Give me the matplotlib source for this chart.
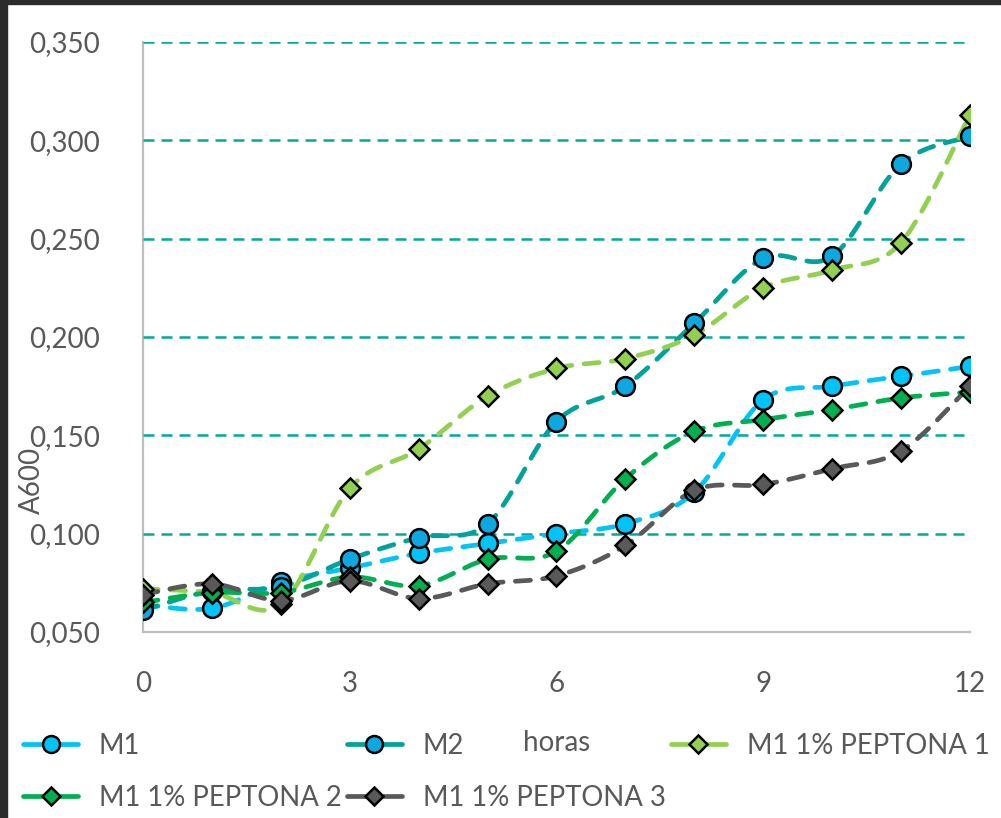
import numpy as np
import matplotlib
matplotlib.use('Agg')
import matplotlib.pyplot as plt
from matplotlib.lines import Line2D
from matplotlib.patches import Rectangle

plt.rcParams['font.family'] = ['Lato', 'DejaVu Sans']

# Datos
horas = [0, 1, 2, 3, 4, 5, 6, 7, 8, 9, 10, 11, 12]
m1 = [0.064, 0.062, 0.0755, 0.0825, 0.090, 0.095, 0.100, 0.105, 0.121, 0.168, 0.175, 0.180, 0.185]
m2 = [0.061, 0.071, 0.073, 0.087, 0.098, 0.105, 0.157, 0.175, 0.207, 0.240, 0.241, 0.288, 0.302]
pep1 = [0.072, 0.070, 0.064, 0.123, 0.143, 0.170, 0.184, 0.189, 0.201, 0.225, 0.234, 0.248, 0.313]
pep2 = [0.065, 0.070, 0.070, 0.078, 0.0735, 0.087, 0.091, 0.128, 0.152, 0.158, 0.163, 0.169, 0.172]
pep3 = [0.069, 0.0745, 0.066, 0.076, 0.067, 0.0745, 0.0785, 0.094, 0.122, 0.125, 0.133, 0.142, 0.175]

nombres = ['M1', 'M2', 'M1 1% PEPTONA 1', 'M1 1% PEPTONA 2', 'M1 1% PEPTONA 3']
series = [m1, m2, pep1, pep2, pep3]
col_linea = ['#00C4F8', '#00A39B', '#92D050', '#00B050', '#595959']
col_relleno = ['#00C4F8', '#0EA8E0', '#92D050', '#00B050', '#595959']
marcadores = ['o', 'o', 'D', 'D', 'D']
tam = [13.5, 13.5, 10, 10, 10]

yticks = [0.05, 0.10, 0.15, 0.20, 0.25, 0.30, 0.35]
xticks = [0, 3, 6, 9, 12]


def suavizar(x, y, n=30):
    # curva suavizada tipo Excel (Bezier con puntos de control Catmull-Rom)
    x = np.asarray(x, float)
    y = np.asarray(y, float)
    P = np.column_stack([x, y])
    Pe = np.vstack([P[0], P, P[-1]])
    t = np.linspace(0, 1, n)[:, None]
    out = []
    for i in range(len(P) - 1):
        p0, p3 = Pe[i + 1], Pe[i + 2]
        c1 = p0 + (Pe[i + 2] - Pe[i]) / 6
        c2 = p3 - (Pe[i + 3] - Pe[i + 1]) / 6
        seg = ((1 - t) ** 3) * p0 + 3 * ((1 - t) ** 2) * t * c1 + 3 * (1 - t) * t ** 2 * c2 + t ** 3 * p3
        out.append(seg if i == 0 else seg[1:])
    c = np.vstack(out)
    return c[:, 0], c[:, 1]


fig = plt.figure(figsize=(10.01, 8.18), dpi=100)
fig.patches.append(Rectangle((0, 0.9945), 1, 0.0055, transform=fig.transFigure, color='#2b2b2b', zorder=10))
fig.patches.append(Rectangle((0, 0), 0.007, 1, transform=fig.transFigure, color='#2b2b2b', zorder=10))

ax = fig.add_axes([0.1429, 0.2274, 0.826, 0.7213])

for yv in yticks[1:]:
    ax.axhline(yv, color='#00A99D', lw=1.8, linestyle=(0, (4.4, 2.8)), zorder=1)

for i, s in enumerate(series):
    xs, ys = suavizar(horas, s)
    ax.plot(xs, ys, color=col_linea[i], lw=3.4, dashes=(3.2, 2.6), dash_capstyle='round', zorder=2 + i)
for i, s in enumerate(series):
    ax.plot(horas, s, linestyle='none', marker=marcadores[i], ms=tam[i],
            mfc=col_relleno[i], mec='black', mew=1.8, zorder=10 + i)

ax.set_xlim(0, 12)
ax.set_ylim(0.05, 0.35)
ax.set_xticks(xticks)
ax.set_yticks(yticks)
ax.set_yticklabels(['{:.3f}'.format(v).replace('.', ',') for v in yticks])
ax.tick_params(length=0, labelsize=20, colors='#595959', pad=0)
ax.tick_params(axis='y', pad=31)
ax.tick_params(axis='x', pad=28)
for sp in ['top', 'right']:
    ax.spines[sp].set_visible(False)
for sp in ['left', 'bottom']:
    ax.spines[sp].set_color('#BFBFBF')
    ax.spines[sp].set_linewidth(1.6)
ax.spines['left'].set_zorder(0)

fig.text(0.032, 0.413, 'A600', rotation=90, ha='center', va='center', fontsize=20, color='#595959')
fig.text(0.556, 0.092, 'horas', ha='center', va='center', fontsize=20, color='#595959')

handles = []
for i in range(5):
    handles.append(Line2D([0], [0], color=col_linea[i], lw=3.4, solid_capstyle='round',
                          marker=marcadores[i], ms=tam[i] * 0.9, mfc=col_relleno[i], mec='black', mew=1.8))
# orden por filas: la leyenda de matplotlib llena por columnas
orden = [0, 3, 1, 4, 2]
fig.legend([handles[k] for k in orden], [nombres[k] for k in orden], loc='lower left',
           bbox_to_anchor=(0.012, -0.005), ncol=3, frameon=False,
           fontsize=19.8, labelcolor='#595959', handlelength=2.0, handletextpad=0.75,
           columnspacing=0.2, borderaxespad=0, labelspacing=0.95)

fig.savefig('out.png', dpi=100)
